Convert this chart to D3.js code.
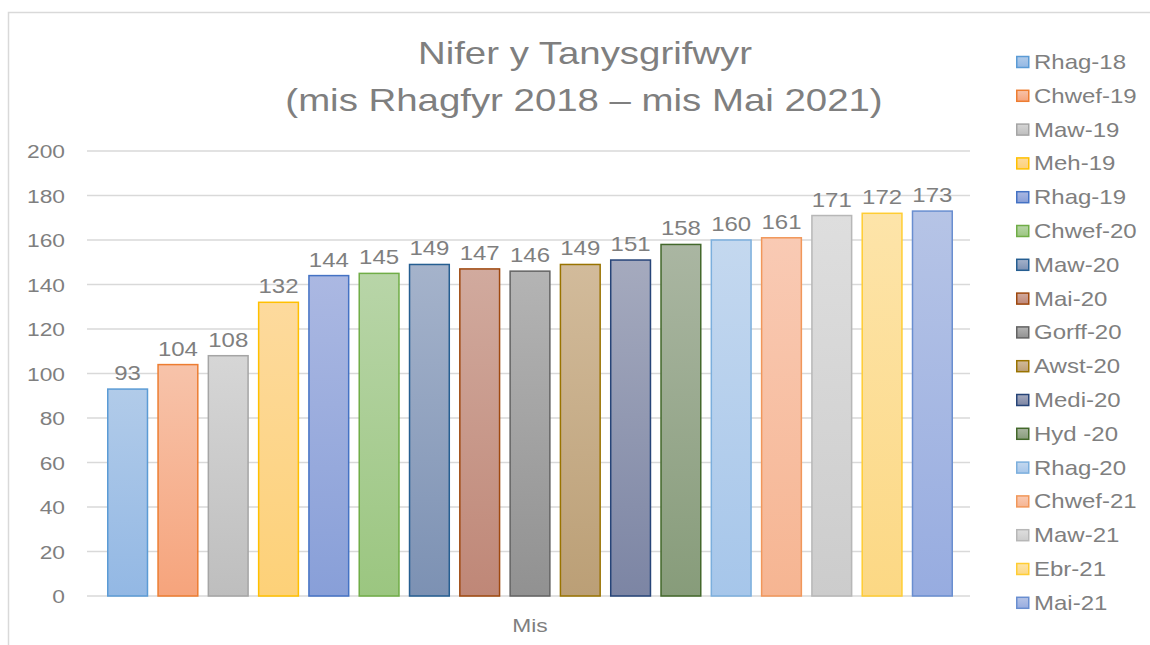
<!DOCTYPE html>
<html>
<head>
<meta charset="utf-8">
<script src="https://cdn.jsdelivr.net/npm/d3@7"></script>
<style>
  body { margin: 0; background: #fff; }
  text { font-family: "Liberation Sans", Arial, sans-serif; fill: #7f7f7f; }
</style>
</head>
<body>
<div id="chart"></div>
<script>
// months (series) and subscriber counts
var months = ["Rhag-18", "Chwef-19", "Maw-19", "Meh-19", "Rhag-19", "Chwef-20", "Maw-20", "Mai-20",
  "Gorff-20", "Awst-20", "Medi-20", "Hyd -20", "Rhag-20", "Chwef-21", "Maw-21", "Ebr-21", "Mai-21"];
var counts = [93, 104, 108, 132, 144, 145, 149, 147, 146, 149, 151, 158, 160, 161, 171, 172, 173];
var yTicks = [0, 20, 40, 60, 80, 100, 120, 140, 160, 180, 200];
var strokes = ["#5b9bd5", "#ed7d31", "#a5a5a5", "#ffc000", "#4472c4", "#70ad47", "#255e91", "#9e480e",
  "#636363", "#997300", "#264478", "#43682b", "#7cafdd", "#f1975a", "#b7b7b7", "#ffcd33", "#698ed0"];
var topFill = ["#b1cbe9", "#f7c3aa", "#d6d6d6", "#fdda9d", "#abb8e2", "#b8d5a8", "#a5b3cb", "#d1aa9e",
  "#b4b4b4", "#d2bb9b", "#a5aabe", "#aab6a2", "#c4d8ef", "#f9cab4", "#dedede", "#fde4a9", "#b6c4e6"];
var bottomFill = ["#93b8e4", "#f6a47c", "#bebebe", "#fdd178", "#889fd8", "#9bc680", "#7c91b3", "#bf8777",
  "#919191", "#bb9f76", "#7c85a4", "#879c7a", "#a6c6ea", "#f6b592", "#cccccc", "#fcd884", "#97ace0"];

var w = 1150, h = 645;
var sx = 1.2; // the picture is a bit wider than tall, text looks stretched
var svg = d3.select("#chart").append("svg").attr("width", w).attr("height", h);

function label(parent, x, y, size, anchor, txt) {
  return parent.append("text")
    .attr("transform", "translate(" + x + "," + y + ") scale(" + sx + ",1)")
    .attr("text-anchor", anchor)
    .style("font-size", size + "px")
    .text(txt);
}

var defs = svg.append("defs");
months.forEach(function (m, i) {
  var g = defs.append("linearGradient").attr("id", "grad" + i)
    .attr("x1", 0).attr("y1", 0).attr("x2", 0).attr("y2", 1);
  g.append("stop").attr("offset", "0%").attr("stop-color", topFill[i]);
  g.append("stop").attr("offset", "100%").attr("stop-color", bottomFill[i]);
});

// outer frame (chart is cropped on right and bottom)
svg.append("path").attr("d", "M8.5," + h + "V12.5H" + w)
  .attr("fill", "none").attr("stroke", "#d9d9d9").attr("stroke-width", 1.5);

var plotLeft = 87, plotRight = 970;
var y = d3.scaleLinear().domain([0, 200]).range([596, 151]);
var x = d3.scaleBand().domain(months).range([107, 953]).paddingInner(0.18).paddingOuter(0);

// gridlines
svg.append("g").selectAll("line").data(yTicks).enter().append("line")
  .attr("x1", plotLeft).attr("x2", plotRight)
  .attr("y1", function (d) { return y(d); }).attr("y2", function (d) { return y(d); })
  .attr("stroke", "#d9d9d9").attr("stroke-width", 1.5);

// y tick labels
var yg = svg.append("g");
yTicks.forEach(function (t) {
  label(yg, 65, y(t) + 7, 19, "end", t);
});

// bars
svg.append("g").selectAll("rect").data(counts).enter().append("rect")
  .attr("x", function (d, i) { return x(months[i]) + 0.75; })
  .attr("y", function (d) { return y(d); })
  .attr("width", x.bandwidth() - 1.5)
  .attr("height", function (d) { return y(0) - y(d); })
  .attr("fill", function (d, i) { return "url(#grad" + i + ")"; })
  .attr("stroke", function (d, i) { return strokes[i]; })
  .attr("stroke-width", 1.5);

// value labels
var vg = svg.append("g");
counts.forEach(function (d, i) {
  label(vg, x(months[i]) + x.bandwidth() / 2, y(d) - 9, 20, "middle", d);
});

// axis title
label(svg, 530, 632, 19, "middle", "Mis");

// chart title
label(svg, 585, 64, 32, "middle", "Nifer y Tanysgrifwyr");
label(svg, 584, 111, 32, "middle", "(mis Rhagfyr 2018 \u2013 mis Mai 2021)");

// legend
var legend = svg.append("g").selectAll("g").data(months).enter().append("g")
  .attr("transform", function (d, i) { return "translate(1016," + (62 + i * 33.8) + ")"; });
legend.append("rect").attr("x", 0.75).attr("y", -5.5).attr("width", 12).attr("height", 11)
  .attr("fill", function (d, i) { return "url(#grad" + i + ")"; })
  .attr("stroke", function (d, i) { return strokes[i]; }).attr("stroke-width", 1.5);
legend.each(function (d) { label(d3.select(this), 18, 7, 20, "start", d); });
</script>
</body>
</html>
